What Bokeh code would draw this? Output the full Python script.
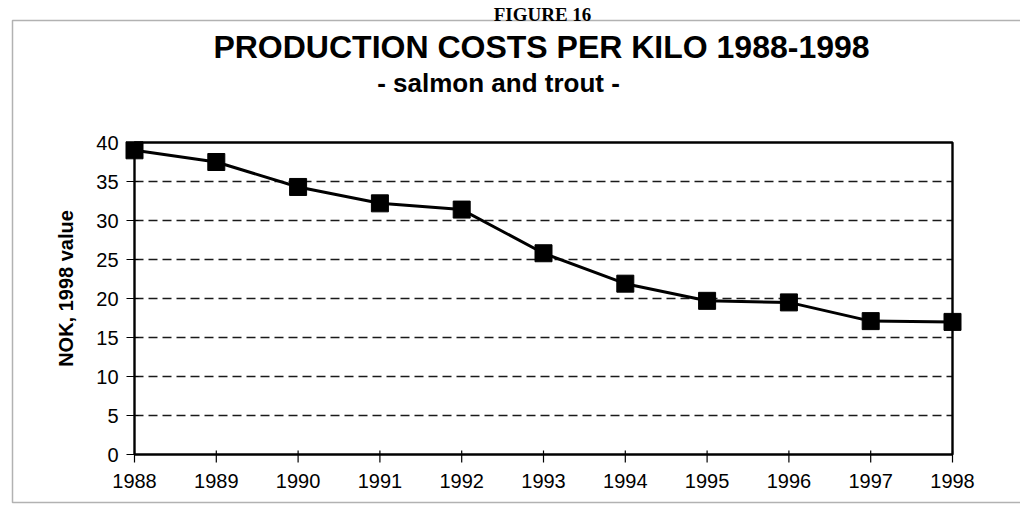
import math
from bokeh.plotting import figure
from bokeh.models import Label, BoxAnnotation, Range1d
from bokeh.embed import file_html
from bokeh.resources import INLINE
from bokeh.core.properties import value

# ---- data ----
years = [1988, 1989, 1990, 1991, 1992, 1993, 1994, 1995, 1996, 1997, 1998]
costs = [39.0, 37.5, 34.3, 32.2, 31.4, 25.8, 21.9, 19.7, 19.5, 17.1, 17.0]
y_ticks = [0, 5, 10, 15, 20, 25, 30, 35, 40]
grid_levels = [5, 10, 15, 20, 25, 30, 35]
caption_text = "FIGURE 16"
title_text = "PRODUCTION COSTS PER KILO 1988-1998"
subtitle_text = "- salmon and trout -"
y_label_text = "NOK, 1998 value"

# ---- layout (canvas pixels) ----
W, H = 1020, 504
BOX_L, BOX_R, BOX_T, BOX_B = 134, 952, 142, 454
X0, X1 = years[0], years[-1]
Y0, Y1 = y_ticks[0], y_ticks[-1]
PX_X = (BOX_R - BOX_L) / (X1 - X0)      # pixels per year
PX_Y = (BOX_B - BOX_T) / (Y1 - Y0)      # pixels per unit


def dx(px):
    return px / PX_X


def dy(px):
    return px / PX_Y


x_range = Range1d(X0 - dx(BOX_L), X1 + dx(W - BOX_R))
y_range = Range1d(Y0 - dy(H - BOX_B), Y1 + dy(BOX_T))

p = figure(width=W, height=H, output_backend="svg", toolbar_location=None,
           x_range=x_range, y_range=y_range,
           x_axis_location=None, y_axis_location=None,
           min_border=0, min_border_left=0, min_border_right=0,
           min_border_top=0, min_border_bottom=0)
p.outline_line_color = None
p.xgrid.visible = False
p.ygrid.visible = False
p.background_fill_color = "white"
p.border_fill_color = "white"

SANS = value("Liberation Sans")

# dashed horizontal gridlines
p.segment(x0=[X0] * len(grid_levels), x1=[X1] * len(grid_levels),
          y0=grid_levels, y1=grid_levels, line_color="#1a1a1a", line_width=1.4,
          line_dash="9 5")
# plot box
p.quad(left=[X0], right=[X1], bottom=[Y0], top=[Y1],
       fill_color=None, line_color="black", line_width=2.4)

# ticks (crossing the axes: 8px out, 4px in)
p.segment(x0=years, x1=years, y0=[Y0 - dy(8)] * len(years),
          y1=[Y0 + dy(4)] * len(years), line_color="black", line_width=1.2)
p.segment(x0=[X0 - dx(8)] * len(y_ticks), x1=[X0 + dx(4)] * len(y_ticks),
          y0=y_ticks, y1=y_ticks, line_color="black", line_width=1.2)

# tick labels
p.text(x=years, y=[Y0 - dy(19)] * len(years), text=[str(v) for v in years],
       text_font=SANS, text_font_size="20px", text_align="center",
       text_baseline="top", text_color="black")
p.text(x=[X0 - dx(16)] * len(y_ticks), y=y_ticks, text=[str(v) for v in y_ticks],
       text_font=SANS, text_font_size="20px", text_align="right",
       text_baseline="middle", text_color="black")

# y axis title
p.text(x=[X0 - dx(69)], y=[(Y0 + Y1) / 2 + dy(10)], text=[y_label_text],
       text_font=SANS, text_font_style="bold", text_font_size="20px",
       text_align="center", text_baseline="middle", angle=math.pi / 2,
       text_color="black")

# series
p.line(years, costs, line_color="black", line_width=3)
p.scatter(years, costs, marker="square", size=17, fill_color="black",
          line_color="black")

# outer border of the figure panel
p.add_layout(BoxAnnotation(left=12, right=1060, bottom=2, top=H - 20,
                           left_units="screen", right_units="screen",
                           bottom_units="screen", top_units="screen",
                           fill_color=None, line_color="black", line_width=1.5))

# texts
p.add_layout(Label(x=542, y=H - 14, x_units="screen", y_units="screen",
                   text=caption_text, text_font="Liberation Serif",
                   text_font_style="bold", text_font_size="19px",
                   text_align="center", text_baseline="alphabetic",
                   text_color="black"))
p.add_layout(Label(x=541, y=H - 46, x_units="screen", y_units="screen",
                   text=title_text, text_font="Liberation Sans",
                   text_font_style="bold", text_font_size="32px",
                   text_align="center", text_baseline="middle", text_color="black"))
p.add_layout(Label(x=498, y=H - 82, x_units="screen", y_units="screen",
                   text=subtitle_text, text_font="Liberation Sans",
                   text_font_style="bold", text_font_size="26px",
                   text_align="center", text_baseline="middle", text_color="black"))

open("out.html", "w").write(file_html(p, INLINE))
